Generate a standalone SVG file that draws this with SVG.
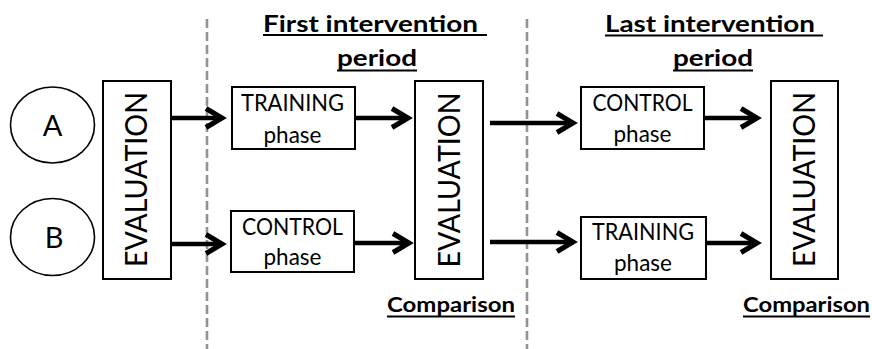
<svg xmlns="http://www.w3.org/2000/svg" width="872" height="349" viewBox="0 0 872 349">
  <style>
    .bg { fill: #ffffff; }
    .box { fill: #ffffff; stroke: #000000; stroke-width: 2; }
    .circ { fill: #ffffff; stroke: #000000; stroke-width: 1.6; }
    .t { font-family: Lato, "Liberation Sans", sans-serif; fill: #000000; }
    .bt { font-size: 22.5px; text-anchor: middle; }
    .ev { font-size: 30px; text-anchor: middle; }
    .lbl { font-size: 29px; text-anchor: middle; }
    .title { font-size: 23.5px; font-weight: bold; }
    .cmp { font-size: 21px; font-weight: bold; }
    .ul { stroke: #000000; stroke-width: 2; }
    .dash { stroke: #939393; stroke-width: 2.6; stroke-dasharray: 9 4; fill: none; }
    .arr { stroke: #000000; stroke-width: 4.5; fill: none; marker-end: url(#head); }
  </style>
  <defs>
    <marker id="head" markerUnits="userSpaceOnUse" viewBox="-20 -12 24 24" refX="0" refY="0" markerWidth="24" markerHeight="24" orient="auto" overflow="visible">
      <path d="M -16 -9.5 L 0 0 L -16 9.5" fill="none" stroke="#000000" stroke-width="5" stroke-linejoin="miter" stroke-linecap="butt"/>
    </marker>
  </defs>
  <rect class="bg" x="0" y="0" width="872" height="349"/>

  <g id="dividers">
    <line class="dash" x1="207" y1="19" x2="207" y2="349"/>
    <line class="dash" x1="527" y1="19" x2="527" y2="349"/>
  </g>

  <g id="titles">
    <text class="t title" x="263" y="32" textLength="215" lengthAdjust="spacingAndGlyphs">First intervention</text>
    <line class="ul" x1="263" y1="35" x2="487" y2="35"/>
    <text class="t title" x="337" y="66" textLength="80" lengthAdjust="spacingAndGlyphs">period</text>
    <line class="ul" x1="337" y1="70.5" x2="417" y2="70.5"/>
    <text class="t title" x="605" y="32" textLength="210" lengthAdjust="spacingAndGlyphs">Last intervention</text>
    <line class="ul" x1="605" y1="35.5" x2="823" y2="35.5"/>
    <text class="t title" x="673" y="66" textLength="80" lengthAdjust="spacingAndGlyphs">period</text>
    <line class="ul" x1="673" y1="70.5" x2="753" y2="70.5"/>
  </g>

  <g id="groupA">
    <ellipse class="circ" cx="52.5" cy="125" rx="42" ry="38"/>
    <text class="t lbl" x="52.5" y="136">A</text>
  </g>
  <g id="groupB">
    <ellipse class="circ" cx="52.5" cy="237" rx="42" ry="38.5"/>
    <text class="t lbl" x="54" y="248">B</text>
  </g>

  <g id="eval1">
    <rect class="box" x="103" y="81" width="68" height="198"/>
    <text class="t ev" transform="translate(147,179.5) rotate(-90)" x="0" y="0" textLength="175" lengthAdjust="spacingAndGlyphs">EVALUATION</text>
  </g>

  <g id="training1">
    <rect class="box" x="232" y="87" width="123" height="62"/>
    <text class="t bt" x="292.5" y="111" textLength="103" lengthAdjust="spacingAndGlyphs">TRAINING</text>
    <text class="t bt" x="292.5" y="143">phase</text>
  </g>
  <g id="control1">
    <rect class="box" x="231" y="211" width="123" height="61"/>
    <text class="t bt" x="292.5" y="235" textLength="101" lengthAdjust="spacingAndGlyphs">CONTROL</text>
    <text class="t bt" x="292.5" y="265">phase</text>
  </g>

  <g id="eval2">
    <rect class="box" x="415" y="81" width="68" height="198"/>
    <text class="t ev" transform="translate(459.5,180) rotate(-90)" x="0" y="0" textLength="175" lengthAdjust="spacingAndGlyphs">EVALUATION</text>
  </g>
  <g id="comparison1">
    <text class="t cmp" x="387" y="312" textLength="128" lengthAdjust="spacingAndGlyphs">Comparison</text>
    <line class="ul" x1="387" y1="316.5" x2="515" y2="316.5"/>
  </g>

  <g id="control2">
    <rect class="box" x="581" y="87" width="123" height="62"/>
    <text class="t bt" x="642.5" y="111" textLength="100" lengthAdjust="spacingAndGlyphs">CONTROL</text>
    <text class="t bt" x="642.5" y="142">phase</text>
  </g>
  <g id="training2">
    <rect class="box" x="581" y="217" width="125" height="62"/>
    <text class="t bt" x="643" y="240" textLength="102" lengthAdjust="spacingAndGlyphs">TRAINING</text>
    <text class="t bt" x="643" y="271">phase</text>
  </g>

  <g id="eval3">
    <rect class="box" x="771" y="81" width="67" height="198"/>
    <text class="t ev" transform="translate(815,179.5) rotate(-90)" x="0" y="0" textLength="175" lengthAdjust="spacingAndGlyphs">EVALUATION</text>
  </g>
  <g id="comparison2">
    <text class="t cmp" x="743" y="312" textLength="127" lengthAdjust="spacingAndGlyphs">Comparison</text>
    <line class="ul" x1="743" y1="316.5" x2="870" y2="316.5"/>
  </g>

  <g id="connectors">
    <line class="arr" x1="171" y1="118" x2="222" y2="118"/>
    <line class="arr" x1="171" y1="244" x2="222" y2="244"/>
    <line class="arr" x1="355" y1="118" x2="408" y2="118"/>
    <line class="arr" x1="354" y1="243" x2="409" y2="243"/>
    <line class="arr" x1="490" y1="123" x2="573" y2="123"/>
    <line class="arr" x1="490" y1="242" x2="573" y2="242"/>
    <line class="arr" x1="704" y1="118" x2="757" y2="118"/>
    <line class="arr" x1="706" y1="243" x2="757" y2="243"/>
  </g>
</svg>
